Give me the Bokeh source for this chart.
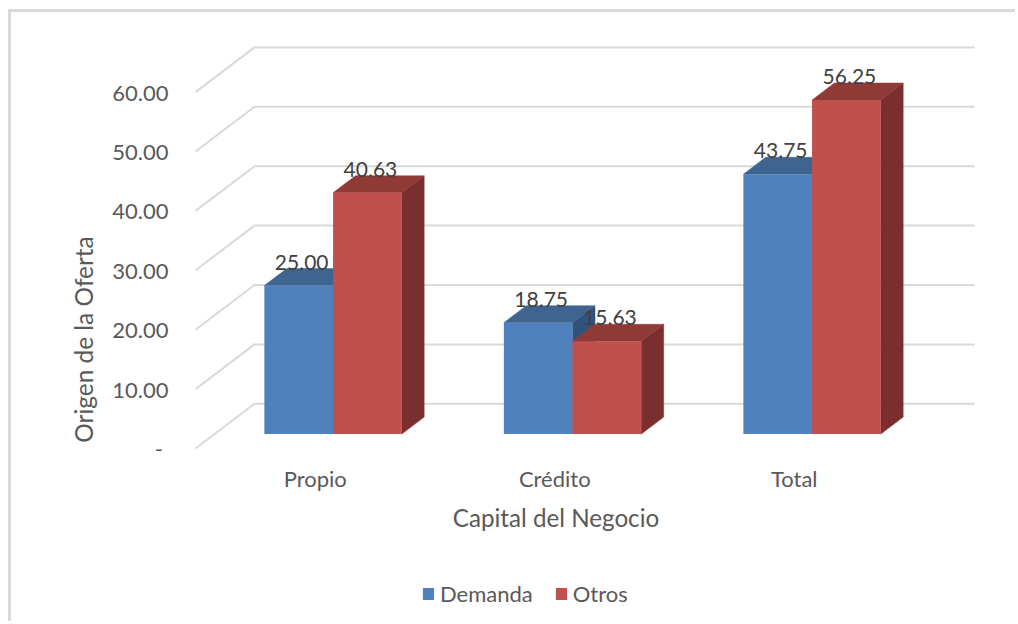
from bokeh.core.properties import value
from bokeh.embed import file_html
from bokeh.models import (ColumnDataSource, FixedTicker, Label,
                          Legend, LegendItem, Range1d)
from bokeh.plotting import figure
from bokeh.resources import INLINE

categories = ["Propio", "Crédito", "Total"]
demanda = [25.00, 18.75, 43.75]
otros = [40.63, 15.63, 56.25]
series_names = ["Demanda", "Otros"]
y_ticks = [0, 10, 20, 30, 40, 50, 60]
y_tick_labels = ["-\u00a0", "10.00", "20.00", "30.00", "40.00", "50.00", "60.00"]

FONT = "Lato"
GRID = "#d9d9d9"
TXT = "#595959"
# projection of the 3-D box, in data units
X_MAX = 3.2526
WALL_DX = 0.2463     # full depth of the floor along x
WALL_DY = 7.525      # full depth of the floor along y
BAR_D0 = 0.322       # bar front plane, as a share of the depth
BAR_DEPTH = 0.38     # bar depth, as a share of the depth
BAR_W = 0.2868

p = figure(width=1007, height=612, output_backend="svg", toolbar_location=None,
           x_range=Range1d(-0.7683, 3.4363), y_range=Range1d(-29.63, 73.40),
           min_border=0, outline_line_color=None, background_fill_color="white",
           styles={"margin-left": "8px", "margin-top": "9px",
                   "border-left": f"3px solid {GRID}", "border-top": f"3px solid {GRID}"})
p.grid.visible = False

p.xaxis.ticker = FixedTicker(ticks=[i + 0.5 for i in range(len(categories))])
p.xaxis.major_label_overrides = {i + 0.5: c for i, c in enumerate(categories)}
p.yaxis.ticker = FixedTicker(ticks=y_ticks)
p.yaxis.major_label_overrides = dict(zip(y_ticks, y_tick_labels))
p.xaxis.fixed_location = 0
p.yaxis.fixed_location = 0
for ax in (p.xaxis[0], p.yaxis[0]):
    ax.axis_line_color = None
    ax.major_tick_line_color = None
    ax.minor_tick_line_color = None
    ax.major_label_text_font = FONT
    ax.major_label_text_font_size = "22px"
    ax.major_label_text_color = TXT
p.yaxis.major_label_standoff = 21
p.xaxis.major_label_standoff = 11

# walls
for v in y_ticks:
    p.line([0, WALL_DX, X_MAX], [v, v + WALL_DY, v + WALL_DY], line_color=GRID, line_width=2)

# bars
x0 = BAR_D0 * WALL_DX + 0.5 - BAR_W - 0.005
y0 = BAR_D0 * WALL_DY
ddx = BAR_DEPTH * WALL_DX
ddy = BAR_DEPTH * WALL_DY
styles = [("#4f81bd", "#3e648f", "#30527c"), ("#c0504d", "#903a38", "#7a2e2d")]
fronts = []
for s, vals in enumerate([demanda, otros]):
    front, top, side = styles[s]
    lefts = [i + x0 + s * BAR_W for i in range(len(vals))]
    rights = [l + BAR_W for l in lefts]
    tops = [y0 + v for v in vals]
    p.patches([[r, r + ddx, r + ddx, r] for r in rights],
              [[y0, y0 + ddy, t + ddy, t] for t in tops],
              fill_color=side, line_color=side, line_width=0.5)
    p.patches([[l, l + ddx, r + ddx, r] for l, r in zip(lefts, rights)],
              [[t, t + ddy, t + ddy, t] for t in tops],
              fill_color=top, line_color=top, line_width=0.5)
    fronts.append(p.quad(left=lefts, right=rights, bottom=[y0] * len(vals), top=tops,
                         fill_color=front, line_color=None))

# data labels above everything
for s, vals in enumerate([demanda, otros]):
    src = ColumnDataSource(dict(
        x=[i + x0 + (s + 0.5) * BAR_W for i in range(len(vals))],
        y=[y0 + v for v in vals],
        t=[f"{v:.2f}" for v in vals]))
    p.text("x", "y", text="t", source=src, x_offset=3, y_offset=-23.5,
           text_align="center", text_baseline="middle",
           text_font=value(FONT), text_font_size="21px", text_color="#404040")

# axis titles
p.add_layout(Label(x=72, y=285, x_units="screen", y_units="screen",
                   text="Origen de la Oferta", angle=90, angle_units="deg",
                   text_align="center", text_baseline="middle", text_font=FONT,
                   text_font_size="24.4px", text_color=TXT))
p.add_layout(Label(x=544.5, y=107, x_units="screen", y_units="screen",
                   text="Capital del Negocio", text_align="center", text_baseline="middle",
                   text_font=FONT, text_font_size="24.2px", text_color=TXT))

legend = Legend(items=[LegendItem(label=n, renderers=[r]) for n, r in zip(series_names, fronts)],
                orientation="horizontal", location=(410, 17), padding=0, margin=0,
                spacing=21, glyph_width=14, glyph_height=15, label_standoff=5,
                label_text_font=FONT, label_text_font_size="22px", label_text_color=TXT,
                background_fill_alpha=0, border_line_color=None)
p.add_layout(legend, "center")

open("out.html", "w").write(file_html(p, INLINE))
